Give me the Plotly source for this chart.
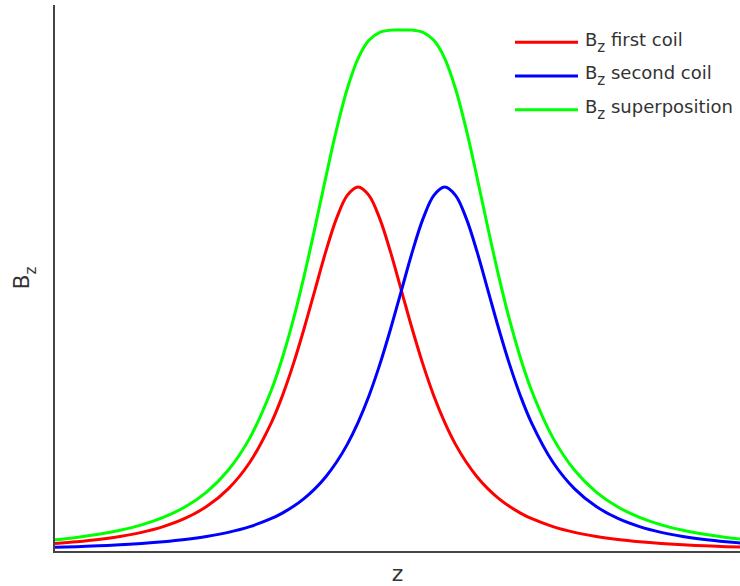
import plotly.graph_objects as go

# Axial field of two coaxial coils (Helmholtz arrangement), z in units of coil radius
z = [-4, -3.75, -3.5, -3.25, -3, -2.75, -2.5, -2.25, -2, -1.75,
     -1.5, -1.375, -1.25, -1.125, -1, -0.875, -0.75, -0.625, -0.5, -0.375,
     -0.25, -0.125, 0, 0.125, 0.25, 0.375, 0.5, 0.625, 0.75, 0.875,
     1, 1.125, 1.25, 1.375, 1.5, 1.75, 2, 2.25, 2.5, 2.75,
     3, 3.25, 3.5, 3.75, 4]

bz_first = [0.0207, 0.0254, 0.0316, 0.0399, 0.0512, 0.0670, 0.0894, 0.1221, 0.1707, 0.2438,
            0.3536, 0.426, 0.512, 0.610, 0.7155, 0.821, 0.913, 0.977, 1.0, 0.977,
            0.913, 0.821, 0.7155, 0.610, 0.512, 0.426, 0.3536, 0.293, 0.2438, 0.2035,
            0.1707, 0.1440, 0.1221, 0.1042, 0.0894, 0.0670, 0.0512, 0.0399, 0.0316, 0.0254,
            0.0207, 0.0171, 0.0143, 0.0120, 0.0102]

bz_second = [0.0102, 0.0120, 0.0143, 0.0171, 0.0207, 0.0254, 0.0316, 0.0399, 0.0512, 0.0670,
             0.0894, 0.1042, 0.1221, 0.1440, 0.1707, 0.2035, 0.2438, 0.293, 0.3536, 0.426,
             0.512, 0.610, 0.7155, 0.821, 0.913, 0.977, 1.0, 0.977, 0.913, 0.821,
             0.7155, 0.610, 0.512, 0.426, 0.3536, 0.2438, 0.1707, 0.1221, 0.0894, 0.0670,
             0.0512, 0.0399, 0.0316, 0.0254, 0.0207]

bz_sum = [0.0309, 0.0374, 0.0459, 0.0570, 0.0719, 0.0924, 0.1210, 0.1620, 0.2219, 0.3108,
          0.4430, 0.5302, 0.6341, 0.7540, 0.8862, 1.0245, 1.1568, 1.270, 1.3536, 1.403,
          1.425, 1.431, 1.431, 1.431, 1.425, 1.403, 1.3536, 1.270, 1.1568, 1.0245,
          0.8862, 0.7540, 0.6341, 0.5302, 0.4430, 0.3108, 0.2219, 0.1620, 0.1210, 0.0924,
          0.0719, 0.0570, 0.0459, 0.0374, 0.0309]

series = [
    ("first coil", bz_first, "#ff0000"),
    ("second coil", bz_second, "#0000ff"),
    ("superposition", bz_sum, "#00ff00"),
]

FONT = "DejaVu Sans, Verdana, sans-serif"
TEXT = "#333333"
# B with a deeper, larger subscript z
BZ = 'B<sub><sub><span style="font-size:15px">z</span></sub></sub>'

fig = go.Figure()
for name, vals, color in series:
    fig.add_trace(go.Scatter(
        x=z, y=vals, mode="lines", name="B_z " + name,
        line=dict(color=color, width=3, shape="spline", smoothing=1.0),
        showlegend=False,
    ))

# Hand-placed legend: line sample plus label for each series
legend_y = [0.932, 0.870, 0.808]
for (name, _, color), ly in zip(series, legend_y):
    fig.add_shape(type="line", xref="paper", yref="paper",
                  x0=0.6715, x1=0.7635, y0=ly, y1=ly,
                  line=dict(color=color, width=3))
    fig.add_annotation(xref="paper", yref="paper", x=0.7708, y=ly,
                       xanchor="left", yanchor="middle", showarrow=False,
                       text=BZ + " " + name,
                       font=dict(family=FONT, size=18, color=TEXT))

fig.update_layout(
    width=740, height=586,
    margin=dict(l=55, r=0, t=5, b=35),
    paper_bgcolor="white", plot_bgcolor="white",
    font=dict(family=FONT, size=18, color=TEXT),
    xaxis=dict(range=[-4, 3.91], showgrid=False, zeroline=False,
               showticklabels=False, ticks="", showline=True,
               linecolor="#444444", linewidth=1.5, automargin=False,
               title=dict(text="z", standoff=23)),
    yaxis=dict(range=[0, 1.5], showgrid=False, zeroline=False,
               showticklabels=False, ticks="", showline=True,
               linecolor="#444444", linewidth=1.5, automargin=False,
               title=dict(text=BZ, standoff=18)),
)

fig.write_html("out.html")
